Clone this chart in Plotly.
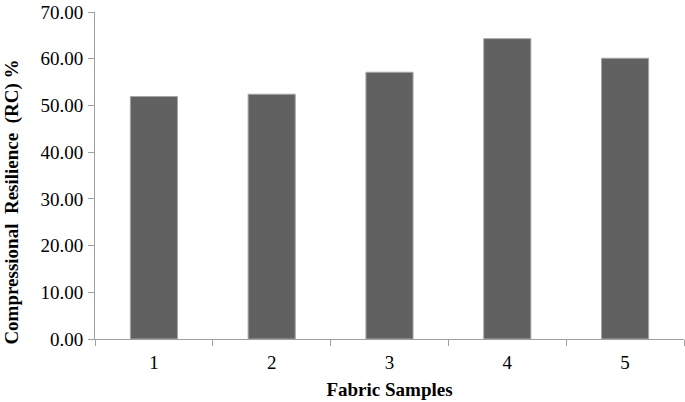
import plotly.graph_objects as go

samples = ["1", "2", "3", "4", "5"]
rc_values = [51.9, 52.4, 57.1, 64.3, 60.1]
y_ticks = [0, 10, 20, 30, 40, 50, 60, 70]

fig = go.Figure()

fig.add_trace(
    go.Bar(
        x=samples,
        y=rc_values,
        width=0.4,
        marker=dict(color="#616161", line=dict(color="#a6a6a6", width=1)),
    )
)

fig.update_layout(
    width=685,
    height=402,
    margin=dict(l=95, r=1, t=12, b=63),
    plot_bgcolor="white",
    paper_bgcolor="white",
    showlegend=False,
    font=dict(family="Liberation Serif", color="black", size=19),
)

fig.update_xaxes(
    type="category",
    tickson="boundaries",
    ticks="outside",
    ticklen=6,
    tickcolor="#a0a0a0",
    showline=True,
    linecolor="#a0a0a0",
    linewidth=1,
    showgrid=False,
    automargin=False,
    tickfont=dict(size=19),
    ticklabelstandoff=6,
    title=dict(text="<b>Fabric Samples</b>", font=dict(size=19), standoff=10),
)

fig.update_yaxes(
    range=[0, 70],
    tickvals=y_ticks,
    tickformat=".2f",
    ticks="outside",
    ticklen=6,
    tickcolor="#a0a0a0",
    showline=True,
    linecolor="#a0a0a0",
    linewidth=1,
    showgrid=False,
    zeroline=False,
    automargin=False,
    tickfont=dict(size=19),
    ticklabelstandoff=1,
)

# y title sits below the axis middle in the original, so place it as an annotation
fig.add_annotation(
    text="<b>Compressional  Resilience  (RC) %</b>",
    textangle=-90,
    xref="paper", yref="paper",
    x=-0.141, y=0.42,
    xanchor="center", yanchor="middle",
    showarrow=False,
    font=dict(size=19),
)

# page body has a default 8px margin; drop it so the chart sits at the window origin
fig.write_html(
    "out.html",
    config={"displayModeBar": False},
    post_script="document.body.style.margin='0';",
)
